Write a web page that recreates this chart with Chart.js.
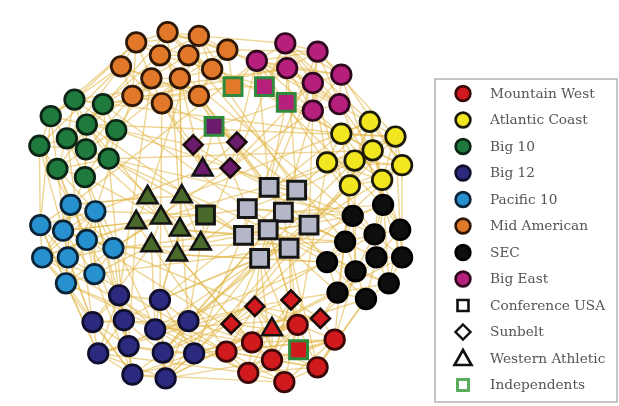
<!DOCTYPE html>
<html>
<head>
<meta charset="utf-8">
<script src="https://cdn.jsdelivr.net/npm/chart.js@4/dist/chart.umd.min.js"></script>
<style>
  html, body { margin: 0; padding: 0; background: #ffffff; }
  #wrap { width: 619px; height: 406px; }
</style>
</head>
<body>
<div id="wrap"><canvas id="c" width="619" height="406"></canvas></div>
<script>
// ---- Team positions in the network layout (x, y), one array per conference ----
const mountainWest    = [[297,335],[336,351],[249,354],[222,364],[270,373],[318,381],[245,387],[283,397]];
const atlanticCoast   = [[373,115],[343,128],[400,131],[376,146],[357,157],[328,159],[407,162],[386,178],[352,184]];
const big10           = [[62,91],[92,96],[37,109],[75,118],[106,124],[25,141],[54,133],[74,145],[98,155],[44,166],[73,175]];
const big12           = [[109,303],[152,308],[81,332],[114,330],[147,340],[182,331],[87,366],[119,358],[155,365],[188,366],[123,389],[158,393]];
const pacific10       = [[58,205],[84,212],[26,227],[50,233],[75,243],[103,252],[28,262],[55,262],[83,280],[53,290]];
const midAmerican     = [[127,29],[160,18],[193,22],[223,37],[152,43],[182,43],[207,58],[111,55],[143,68],[173,68],[123,87],[154,95],[193,87]];
const sec             = [[387,205],[355,217],[347,245],[378,237],[405,232],[328,267],[358,277],[380,262],[407,262],[339,300],[369,307],[393,290]];
const bigEast         = [[284,30],[318,39],[254,49],[286,57],[313,73],[343,64],[313,103],[341,96]];
const conferenceUSA   = [[267,186],[296,189],[244,209],[282,213],[309,227],[240,238],[266,232],[288,252],[257,263],[200,216]];
const sunbelt         = [[252,315],[290,308],[227,334],[321,328],[187,140],[233,137],[226,165]];
const westernAthletic = [[139,197],[175,196],[127,224],[153,219],[173,232],[143,249],[170,259],[195,247],[270,340],[197,167]];
const independents    = [[229,77],[262,77],[285,94],[209,120],[298,362]];

// detected community of each team in the mixed conferences
const conferenceUSACommunity   = ['gray','gray','gray','gray','gray','gray','gray','gray','gray','olive'];
const sunbeltCommunity         = ['red','red','red','red','purple','purple','purple'];
const westernAthleticCommunity = ['olive','olive','olive','olive','olive','olive','olive','olive','red','purple'];
const independentsCommunity    = ['orange','pink','pink','purple','red'];

// ---- Games played: intra-conference adjacency (higher-index opponents, base-36) ----
const mountainWestGames    = ['1234567','234567','34567','4567','567','67','7'];
const bigEastGames         = ['1234567','234567','34567','4567','567','67','7'];
const atlanticCoastGames   = ['12345678','2345678','345678','45678','5678','678','78','8'];
const midAmericanGames     = ['124578a','23456','3456c','569c','5689','69b','9c','8abc','9abc','abc','bc','c'];
const big10Games           = ['123467','34689','3569','4678a','78a','679','789a','89a','9a','a'];
const pacific10Games       = ['12345679','2345678','345679','45678','5689','789','789','89','9'];
const big12Games           = ['123467a','34589b','3567a','678a','5789b','689b','7ab','89a','9ab','ab','b'];
const secGames             = ['13478','2356','3569','4678','78b','69a','79ab','8ab','b','ab','b'];
const conferenceUSAGames   = ['1234','235','35679','4578','678','6789','78','8'];
const sunbeltGames         = ['123','23','3','','56','6'];
const westernAthleticGames = ['1234','347','35','456','67','6','7'];

// ---- Games played between teams of different conferences ----
const crossGames = [
  'o0-g2','o0-g0','o1-g3','o1-p2','o2-p0','o3-p1','o4-g1','o4-k1','o5-y1','o6-s1','o7-g5','o7-g6',
  'o8-g4','o8-b0','o9-s0','o9-t1','o10-g7','o10-c1','o11-b1','o11-d4','o12-s3','o12-k5','o3-y0','o6-i1',
  'o2-t0','o1-b5','o5-k2',
  'p0-y0','p1-y2','p2-k3','p3-g1','p4-y5','p5-k0','p6-s4','p7-y3','p0-t7','p1-b9','p4-k1','p5-y6',
  'p6-c5','p7-k4','p3-s1','p2-c0',
  'y0-k0','y1-s2','y2-k4','y3-g8','y4-k6','y5-s0','y6-k8','y7-k3','y8-b5','y1-p6','y2-g3','y4-c4',
  'y5-r0','y6-b11','y7-s4','y8-k2','y0-t1','y3-d2',
  'k0-s3','k1-s5','k2-c5','k3-b8','k4-y3','k5-s8','k6-r1','k7-d3','k8-b11','k9-s6','k10-r5','k11-y7',
  'k0-b1','k5-t6','k6-s2','k9-d1','k10-b9','k11-g8','k2-t4','k3-s0',
  'r0-c5','r1-b9','r2-t6','r3-c8','r4-b11','r5-s7','r6-c9','r7-b10','r0-s6','r2-b5','r3-t5','r4-d1',
  'r5-k10','r6-b6','r7-d0','r1-y8',
  'b0-c5','b1-s8','b2-c6','b3-g8','b4-t5','b5-s4','b6-c9','b7-t2','b8-d2','b9-s7','b10-r3','b11-k9',
  'b0-g10','b1-t4','b2-c7','b3-r2','b4-k5','b5-t7','b6-d0','b7-c4','b8-y4','b9-d3','b10-c8','b11-s8',
  'c0-g5','c1-g9','c2-g5','c3-t2','c4-b0','c5-t3','c6-r6','c7-b2','c8-t5','c9-r3','c0-t0','c1-b7',
  'c2-b6','c3-g10','c4-r2','c6-t2','c7-g9','c8-s7','c9-b10',
  'g0-p3','g1-o5','g2-c2','g3-t0','g4-s1','g5-c3','g6-b2','g7-t3','g8-s5','g9-c4','g10-b4','g0-y1',
  'g4-o9','g6-o10','g8-k1','g9-c0','g10-t3','g2-o7',
  's9-t1','s9-t3','s9-t4','s9-t7','s0-p4','s1-y4','s2-k1','s3-k2','s4-y8','s5-t7','s6-r0','s7-d1',
  's8-b4','s0-i2','s2-d6','s4-k7','s6-b8','s8-r2',
  'd0-b4','d1-r0','d2-r2','d3-k9','d0-r3','d1-r4','d2-t8','d3-r1','d4-i3','d5-i3','d6-t9','d4-t9',
  'd5-t9','d6-s0','d5-p2','d4-g4','d6-k1','d0-t8','d3-t8',
  't8-r0','t8-r2','t8-r4','t8-r6','t9-i3','t9-o11','t9-c1','t0-c0','t1-o9','t2-c3','t3-c5','t4-b1',
  't5-b2','t6-r2','t7-s2','t8-d1',
  'i0-o2','i0-o3','i0-o6','i0-o5','i0-p2','i0-i1','i0-g1','i1-p0','i1-p2','i1-p3','i1-i2','i1-k0',
  'i2-p3','i2-p4','i2-p6','i2-y1','i2-i3','i3-d4','i3-d6','i3-o12','i3-s1',
  'i4-r0','i4-r1','i4-r4','i4-r5','i4-d0','i4-t8','i4-s8',
  'g1-s2','g3-s5','c5-s6','c1-s9','b1-s5','b5-s3','o9-t9','o11-i3','p2-s0','p6-s3','y5-s1','y8-s7',
  'k5-s6','k2-s4','r0-s7','r4-s8','d2-s8','t4-s5','t6-s8','b4-d2','c4-t6','g8-t7','o12-d5','p4-d6'
];

// ---- Styling ----
const fills = {
  red: '#d01a1e', yellow: '#f1e61f', green: '#1f7b3d', navy: '#2b2a7e', sky: '#2790cf',
  orange: '#e2782a', black: '#0e0e0e', pink: '#b61f7c', purple: '#6b1b6b', olive: '#4a6a2c', gray: '#b3b7c7'
};
const communityFill = { gray: fills.gray, olive: fills.olive, red: fills.red, purple: fills.purple,
                        orange: fills.orange, pink: fills.pink };

const groups = {
  r: mountainWest, y: atlanticCoast, g: big10, b: big12, c: pacific10, o: midAmerican,
  k: sec, p: bigEast, s: conferenceUSA, d: sunbelt, t: westernAthletic, i: independents
};
const intraGames = {
  r: mountainWestGames, p: bigEastGames, y: atlanticCoastGames, o: midAmericanGames, g: big10Games,
  c: pacific10Games, b: big12Games, k: secGames, s: conferenceUSAGames, d: sunbeltGames, t: westernAthleticGames
};

// build the edge list
const edgeList = [];
for (const key of Object.keys(intraGames)) {
  intraGames[key].forEach((opp, i) => {
    for (const ch of opp) edgeList.push([groups[key][i], groups[key][parseInt(ch, 36)]]);
  });
}
for (const g of crossGames) {
  const [a, b] = g.split('-');
  edgeList.push([groups[a[0]][parseInt(a.slice(1), 10)], groups[b[0]][parseInt(b.slice(1), 10)]]);
}

const pts = arr => arr.map(([x, y]) => ({ x, y }));

function circleSet(label, arr, fill, border) {
  return {
    label, data: pts(arr), pointStyle: 'circle', pointRadius: 9.8, pointHoverRadius: 9.8,
    pointBorderWidth: 2.7, pointBackgroundColor: fill, pointBorderColor: border,
    showLine: false, clip: false, legendShape: 'circle'
  };
}

const datasets = [
  circleSet('Mountain West',  mountainWest,  fills.red,    '#3a0708'),
  circleSet('Atlantic Coast', atlanticCoast, fills.yellow, '#1c1a08'),
  circleSet('Big 10',         big10,         fills.green,  '#0c2414'),
  circleSet('Big 12',         big12,         fills.navy,   '#0f0e2c'),
  circleSet('Pacific 10',     pacific10,     fills.sky,    '#0a2336'),
  circleSet('Mid American',   midAmerican,   fills.orange, '#2e1705'),
  circleSet('SEC',            sec,           fills.black,  '#000000'),
  circleSet('Big East',       bigEast,       fills.pink,   '#2e0620'),
  {
    label: 'Conference USA', data: pts(conferenceUSA), pointStyle: 'rect', pointRadius: 12.6,
    pointHoverRadius: 12.6, pointBorderWidth: 3, showLine: false, clip: false,
    pointBackgroundColor: conferenceUSACommunity.map(c => communityFill[c]), pointBorderColor: '#151515',
    legendShape: 'rect'
  },
  {
    label: 'Sunbelt', data: pts(sunbelt), pointStyle: 'rectRot', pointRadius: 9.5,
    pointHoverRadius: 9.5, pointBorderWidth: 2.6, showLine: false, clip: false,
    pointBackgroundColor: sunbeltCommunity.map(c => communityFill[c]), pointBorderColor: '#1a0a0a',
    legendShape: 'rectRot'
  },
  {
    label: 'Western Athletic', data: pts(westernAthletic), pointStyle: 'triangle', pointRadius: 11.5,
    pointHoverRadius: 11.5, pointBorderWidth: 2.6, showLine: false, clip: false,
    pointBackgroundColor: westernAthleticCommunity.map(c => communityFill[c]), pointBorderColor: '#141414',
    legendShape: 'triangle'
  },
  {
    label: 'Independents', data: pts(independents), pointStyle: 'rect', pointRadius: 12.6,
    pointHoverRadius: 12.6, pointBorderWidth: 3, showLine: false, clip: false,
    pointBackgroundColor: independentsCommunity.map(c => communityFill[c]), pointBorderColor: '#2f8a3c',
    legendShape: 'indep'
  }
];

// games drawn underneath the teams
const edgePlugin = {
  id: 'gameEdges',
  beforeDatasetsDraw(chart) {
    const { ctx, scales: { x, y } } = chart;
    ctx.save();
    ctx.strokeStyle = 'rgba(226,182,70,0.58)';
    ctx.lineWidth = 1.4;
    for (const [p, q] of edgeList) {
      ctx.beginPath();
      ctx.moveTo(x.getPixelForValue(p[0]), y.getPixelForValue(p[1]));
      ctx.lineTo(x.getPixelForValue(q[0]), y.getPixelForValue(q[1]));
      ctx.stroke();
    }
    ctx.restore();
  }
};

// boxed key at the right-hand side
const keyPlugin = {
  id: 'conferenceKey',
  afterDraw(chart) {
    const ctx = chart.ctx;
    const box = { left: 435, top: 79, right: 617, bottom: 402 };
    ctx.save();
    ctx.fillStyle = '#ffffff';
    ctx.fillRect(box.left, box.top, box.right - box.left, box.bottom - box.top);
    ctx.strokeStyle = '#b4b4b4';
    ctx.lineWidth = 1.5;
    ctx.strokeRect(box.left, box.top, box.right - box.left, box.bottom - box.top);
    const mx = 463, tx = 490, y0 = 93.5, step = 26.5;
    chart.data.datasets.forEach((ds, i) => {
      const cy = y0 + i * step;
      ctx.beginPath();
      if (ds.legendShape === 'circle') {
        ctx.arc(mx, cy, 7.4, 0, Math.PI * 2);
        ctx.fillStyle = ds.pointBackgroundColor;
        ctx.strokeStyle = ds.pointBorderColor;
        ctx.lineWidth = 2.6;
      } else if (ds.legendShape === 'rect') {
        ctx.rect(mx - 5.5, cy - 5.5, 11, 11);
        ctx.fillStyle = '#ffffff'; ctx.strokeStyle = '#111111'; ctx.lineWidth = 2.6;
      } else if (ds.legendShape === 'rectRot') {
        ctx.moveTo(mx, cy - 7.5); ctx.lineTo(mx + 7.5, cy); ctx.lineTo(mx, cy + 7.5); ctx.lineTo(mx - 7.5, cy);
        ctx.closePath();
        ctx.fillStyle = '#ffffff'; ctx.strokeStyle = '#111111'; ctx.lineWidth = 2.4;
      } else if (ds.legendShape === 'triangle') {
        ctx.moveTo(mx, cy - 8.5); ctx.lineTo(mx + 8.5, cy + 6.5); ctx.lineTo(mx - 8.5, cy + 6.5);
        ctx.closePath();
        ctx.fillStyle = '#ffffff'; ctx.strokeStyle = '#111111'; ctx.lineWidth = 2.6;
      } else {
        ctx.rect(mx - 5.5, cy - 5.5, 11, 11);
        ctx.fillStyle = '#ffffff'; ctx.strokeStyle = '#5aad5e'; ctx.lineWidth = 3;
      }
      ctx.fill();
      ctx.stroke();
      ctx.fillStyle = '#555555';
      ctx.font = '13.7px "DejaVu Serif"';
      ctx.textBaseline = 'middle';
      ctx.textAlign = 'left';
      ctx.fillText(ds.label, tx, cy + 0.5);
    });
    ctx.restore();
  }
};

new Chart(document.getElementById('c'), {
  type: 'scatter',
  data: { datasets },
  options: {
    responsive: false,
    devicePixelRatio: 1,
    animation: false,
    layout: { padding: 0 },
    scales: {
      x: { type: 'linear', min: 0, max: 619, display: false },
      y: { type: 'linear', min: 0, max: 406, reverse: true, display: false }
    },
    plugins: { legend: { display: false }, tooltip: { enabled: false } },
    events: []
  },
  plugins: [edgePlugin, keyPlugin]
});
</script>
</body>
</html>
